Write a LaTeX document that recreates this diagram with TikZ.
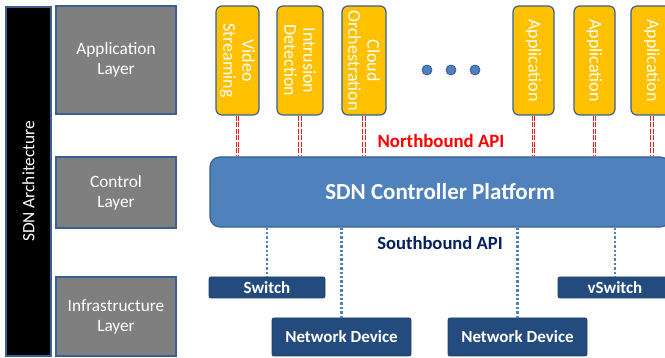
\documentclass[tikz,border=0pt]{standalone}
\usepackage{fontspec}
\setmainfont{Carlito}
\begin{document}
\begin{tikzpicture}[x=1pt,y=-1pt,
  layerbox/.style={draw=borderblue, line width=1.2pt, fill=layergray, text=white,
    font=\fontsize{17.3}{19}\selectfont, align=center, inner sep=0pt},
  appbox/.style={draw=borderblue, line width=1.2pt, fill=appyellow, rounded corners=6pt,
    minimum width=43pt, minimum height=109pt, inner sep=0pt},
  apptext/.style={text=white, font=\fontsize{18}{19}\selectfont, align=center, rotate=-90},
  devbox/.style={draw=devblue!85!black, line width=0.8pt, fill=devblue, rounded corners=2pt,
    text=white, font=\bfseries\fontsize{17}{19}\selectfont, inner sep=0pt},
  northlink/.style={draw=red!90, double=white, double distance=1.4pt, line width=0.9pt,
    dash pattern=on 5pt off 1.5pt},
  southlink/.style={draw=ctrlblue, line width=2.2pt, dash pattern=on 2.4pt off 2pt},
  dotmark/.style={circle, draw=borderblue, line width=0.8pt, fill=ctrlblue,
    minimum size=10pt, inner sep=0pt}
]
\definecolor{borderblue}{HTML}{3A6090}
\definecolor{layergray}{HTML}{7F7F7F}
\definecolor{appyellow}{HTML}{FFC000}
\definecolor{ctrlblue}{HTML}{4F81BD}
\definecolor{devblue}{HTML}{244B7E}
\definecolor{navytext}{HTML}{002060}

\clip (0,0) rectangle (665,358);
\fill[white] (0,0) rectangle (665,358);

% left column: architecture bar and layer boxes
\node[draw=borderblue, line width=1.2pt, fill=black, minimum width=45pt, minimum height=349pt,
  inner sep=0pt] (arch) at (28.5,181.5) {};
\node[text=white, rotate=90, font=\fontsize{17.3}{19}\selectfont] (archtxt) at (arch.center) {SDN Architecture};

\node[layerbox, minimum width=120pt, minimum height=108pt] (lapp) at (116,60) {Application\\[1pt]Layer};
\node[layerbox, minimum width=120pt, minimum height=71pt] (lctl) at (116,192.5) {Control\\[1pt]Layer};
\node[layerbox, minimum width=120pt, minimum height=79pt] (linf) at (116,316.5) {Infrastructure\\[1pt]Layer};

% application boxes
\node[appbox] (vs) at (237.5,60.5) {};
\node[apptext] at (vs.center) {Video\\Streaming};
\node[appbox, minimum width=46pt] (ids) at (300,60.5) {};
\node[apptext] at (ids.center) {Intrusion\\Detection};
\node[appbox, minimum width=44pt] (co) at (364,60.5) {};
\node[apptext] at (co.center) {Cloud\\Orchestration};
\node[appbox, minimum width=41pt] (a1) at (533.5,60.5) {};
\node[apptext] at (a1.center) {Application};
\node[appbox, minimum width=41pt] (a2) at (594.5,60.5) {};
\node[apptext] at (a2.center) {Application};
\node[appbox, minimum width=42pt] (a3) at (652,60.5) {};
\node[apptext] at (a3.center) {Application};

% ellipsis between the application groups
\node[dotmark] (d1) at (427,70) {};
\node[dotmark] (d2) at (451,70) {};
\node[dotmark] (d3) at (475,70) {};

% controller platform
\node[draw=borderblue, line width=1.2pt, fill=ctrlblue, rounded corners=10pt,
  minimum width=460pt, minimum height=70pt, text=white,
  font=\bfseries\fontsize{23}{26}\selectfont] (ctrl) at (440,192) {SDN Controller Platform};

\node[text=red, font=\bfseries\fontsize{18.8}{21}\selectfont] (nb) at (441,141) {Northbound API};
\node[text=navytext, font=\bfseries\fontsize{18.6}{21}\selectfont] (sb) at (440,243) {Southbound API};

% northbound interfaces
\foreach \a in {vs,ids,co,a1,a2,a3}
  \draw[northlink] (\a.south) -- (\a.south |- ctrl.north);

% infrastructure devices
\node[devbox, minimum width=116pt, minimum height=21pt] (sw) at (267,287.5) {Switch};
\node[devbox, minimum width=114pt, minimum height=21pt] (vsw) at (615,287.5) {vSwitch};
\node[devbox, minimum width=139pt, minimum height=38pt] (nd1) at (341.5,337) {Network Device};
\node[devbox, minimum width=139pt, minimum height=38pt] (nd2) at (517.5,337) {Network Device};

% southbound interfaces
\foreach \d in {sw,vsw,nd1,nd2}
  \draw[southlink] (ctrl.south -| \d.north) -- (\d.north);
\end{tikzpicture}
\end{document}
